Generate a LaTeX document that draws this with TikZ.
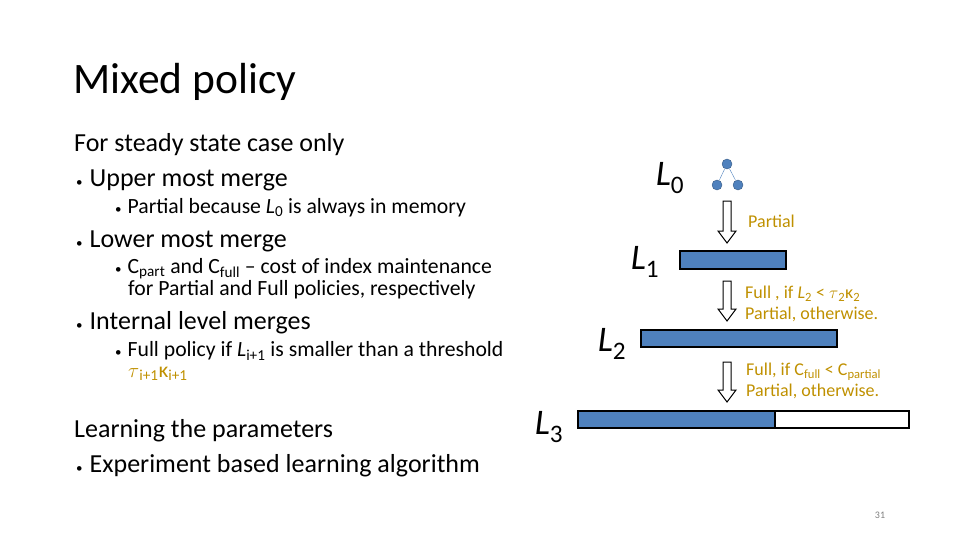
\documentclass[tikz,border=0pt]{standalone}
\usepackage{fontspec}
\setmainfont{Carlito}
\newcommand{\bul}{{\fontsize{13}{13}\selectfont•}}
\begin{document}
\begin{tikzpicture}[x=1pt,y=-1pt,
  txt/.style={anchor=west,inner sep=0,font=\fontsize{26}{28}\selectfont},
  sub/.style={anchor=west,inner sep=0,font=\fontsize{21.7}{23}\selectfont},
  gold/.style={anchor=west,inner sep=0,text=gold,font=\fontsize{18}{21}\selectfont,align=left},
  lvl/.style={inner sep=0,font=\fontsize{36}{36}\selectfont},
  bar/.style={draw=black,line width=1.3pt,fill=barblue},
  dot/.style={circle,fill=barblue,draw=barblue!70!black,minimum size=10pt,inner sep=0},
  hol/.style={draw=black,line width=1pt,fill=white}]
\definecolor{barblue}{RGB}{79,129,189}
\definecolor{gold}{RGB}{191,144,0}
\useasboundingbox (0,0) rectangle (960,540);
\node[anchor=west,inner sep=0,font=\fontsize{43.5}{44}\selectfont] (title) at (73,82) {Mixed policy};
\node[txt] (t1) at (74,145) {For steady state case only};
\node[txt] (t2) at (76,180) {\bul\hspace{7pt}Upper most merge};
\node[sub] (t3) at (115,208) {\bul\hspace{6pt}Partial because \textit{L}\textsubscript{0} is always in memory};
\node[txt] (t4) at (76,241) {\bul\hspace{7pt}Lower most merge};
\node[sub] (t5) at (115,269) {\bul\hspace{6pt}C\textsubscript{part} and C\textsubscript{full} -- cost of index maintenance};
\node[sub] (t6) at (128,290) {for Partial and Full policies, respectively};
\node[txt] (t7) at (76,323) {\bul\hspace{7pt}Internal level merges};
\node[sub] (t8) at (115,351) {\bul\hspace{6pt}Full policy if \textit{L}\textsubscript{i+1} is smaller than a threshold};
\node[sub,text=gold] (t9) at (128,374) {$\tau$\textsubscript{i+1}κ\textsubscript{i+1}};
\node[txt] (t10) at (74,431) {Learning the parameters};
\node[txt] (t11) at (76,466) {\bul\hspace{7pt}Experiment based learning algorithm};
% levels
\node[lvl] (L0) at (670,178) {\textit{L}\textsubscript{0}};
\node[lvl] (L1) at (645,262) {\textit{L}\textsubscript{1}};
\node[lvl] (L2) at (612,344) {\textit{L}\textsubscript{2}};
\node[lvl] (L3) at (549,427) {\textit{L}\textsubscript{3}};
% tree
\node[dot] (r) at (727,164) {};
\node[dot] (a) at (717,185) {};
\node[dot] (b) at (738,185) {};
\draw[barblue] (r) -- (a) (r) -- (b);
% bars
\draw[bar] (680,251) rectangle (786,269);
\draw[bar] (641,330) rectangle (837,347);
\draw[bar] (578,411) rectangle (775,428);
\draw[draw=black,line width=1.3pt] (775,411) rectangle (909,428);
% hollow arrows
\foreach \ya/\yb in {201/243, 281/321, 362/402}{
  \draw[hol] (723,\ya) -- (731,\ya) -- (731,\yb-12) -- (736,\yb-12) -- (727,\yb) -- (718,\yb-12) -- (723,\yb-12) -- cycle;
}
\node[gold] (p1) at (748,221) {Partial};
\node[gold] (p2) at (745,304) {Full , if \textit{L}\textsubscript{2} < $\tau$\textsubscript{2}κ\textsubscript{2}\\Partial, otherwise.};
\node[gold] (p3) at (746,381) {Full, if C\textsubscript{full} < C\textsubscript{partial}\\Partial, otherwise.};
\node[inner sep=0,text=gray,font=\fontsize{10}{10}\selectfont] (pg) at (880,515) {31};
\end{tikzpicture}
\end{document}
